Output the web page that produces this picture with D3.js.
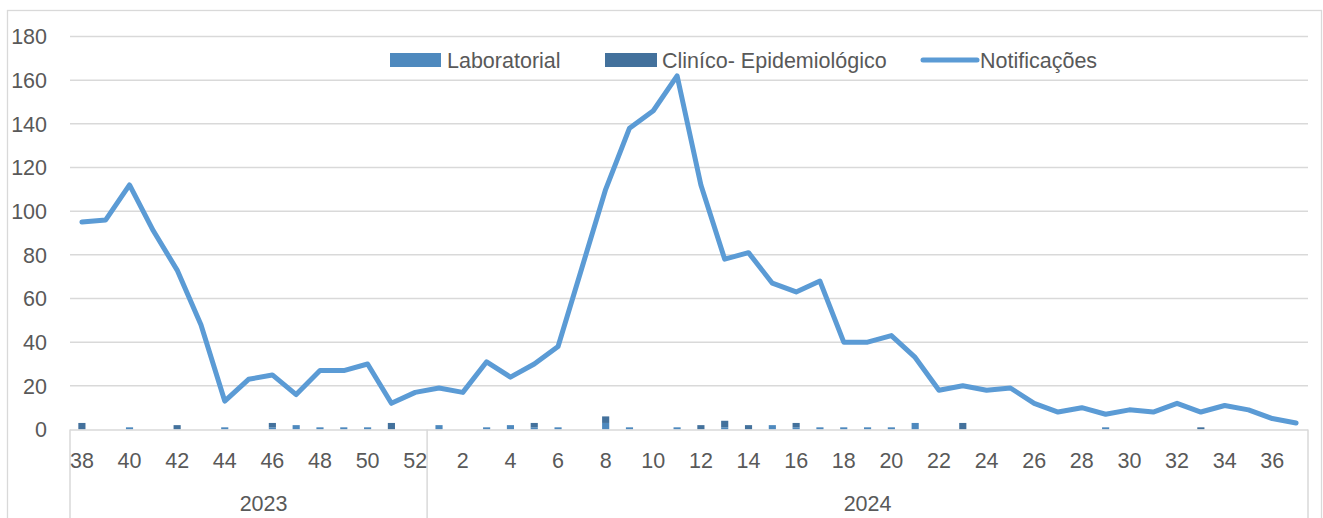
<!DOCTYPE html>
<html>
<head>
<meta charset="utf-8">
<script src="https://cdn.jsdelivr.net/npm/d3@7"></script>
<style>
  body { margin: 0; background: #fff; }
  svg { display: block; }
  text { font-family: "Liberation Sans", Arial, sans-serif; fill: #595959; }
</style>
</head>
<body>
<svg id="svg"></svg>
<script>
// semanas epidemiologicas (2023: 38-52, 2024: 1-37)
var weeks = [38,39,40,41,42,43,44,45,46,47,48,49,50,51,52,
  1,2,3,4,5,6,7,8,9,10,11,12,13,14,15,16,17,18,19,20,21,22,23,24,25,26,27,28,29,30,31,32,33,34,35,36,37];
var years = [2023,2023,2023,2023,2023,2023,2023,2023,2023,2023,2023,2023,2023,2023,2023,
  2024,2024,2024,2024,2024,2024,2024,2024,2024,2024,2024,2024,2024,2024,2024,2024,2024,2024,2024,2024,2024,2024,2024,2024,2024,2024,2024,2024,2024,2024,2024,2024,2024,2024,2024,2024,2024];
var laboratorial = [0,0,1,0,0,0,1,0,1,2,1,1,1,0,0,
  2,0,1,2,1,1,0,3,1,0,1,0,1,0,2,1,1,1,1,1,3,0,0,0,0,0,0,0,1,0,0,0,0,0,0,0,0];
var clinico = [3,0,0,0,2,0,0,0,2,0,0,0,0,3,0,
  0,0,0,0,2,0,0,3,0,0,0,2,3,2,0,2,0,0,0,0,0,0,3,0,0,0,0,0,0,0,0,0,1,0,0,0,0];
var notificacoes = [95,96,112,91,73,48,13,23,25,16,27,27,30,12,17,
  19,17,31,24,30,38,74,110,138,146,162,112,78,81,67,63,68,40,40,43,33,18,20,18,19,12,8,10,7,9,8,12,8,11,9,5,3];
var yTicks = [0,20,40,60,80,100,120,140,160,180];
var seriesNames = ["Laboratorial", "Clin\u00edco- Epidemiol\u00f3gico", "Notifica\u00e7\u00f5es"];

var width = 1323, height = 518;
var colLab = "#4e89be", colClin = "#43719c", colLine = "#5b9bd5", gridCol = "#d9d9d9";
var fs = "21.5px";

var svg = d3.select("#svg").attr("width", width).attr("height", height);

// chart border
svg.append("rect")
  .attr("x", 7.5).attr("y", 10.5)
  .attr("width", 1314).attr("height", 530)
  .attr("fill", "none").attr("stroke", gridCol).attr("stroke-width", 1.3);

var plotL = 70, plotR = 1308, plotT = 36.5, plotB = 429.5;

var idx = weeks.map(function(d, i) { return i; });
var x = d3.scaleBand().domain(idx).range([plotL, plotR]).paddingInner(0.7).paddingOuter(0.35);
var xc = d3.scaleBand().domain(idx).range([plotL, plotR]);
var y = d3.scaleLinear().domain([0, 180]).range([plotB, plotT]);

// gridlines
svg.append("g").selectAll("line").data(yTicks.filter(function(d){ return d > 0; })).enter()
  .append("line")
  .attr("x1", plotL).attr("x2", plotR)
  .attr("y1", function(d){ return y(d); }).attr("y2", function(d){ return y(d); })
  .attr("stroke", gridCol).attr("stroke-width", 1.5);

// y labels
svg.append("g").selectAll("text").data(yTicks).enter()
  .append("text")
  .attr("x", 47).attr("y", function(d){ return y(d); })
  .attr("dy", "0.36em")
  .attr("text-anchor", "end")
  .style("font-size", fs)
  .text(function(d){ return d; });

// stacked bars
var stackData = idx.map(function(i){ return { i: i, lab: laboratorial[i], clin: clinico[i] }; });
var stack = d3.stack().keys(["lab", "clin"])(stackData);
var colors = { lab: colLab, clin: colClin };
svg.append("g").selectAll("g").data(stack).enter()
  .append("g").attr("fill", function(s){ return colors[s.key]; })
  .selectAll("rect").data(function(s){ return s; }).enter()
  .append("rect")
  .attr("x", function(d){ return x(d.data.i); })
  .attr("width", x.bandwidth())
  .attr("y", function(d){ return y(d[1]); })
  .attr("height", function(d){ return y(d[0]) - y(d[1]); });

// x axis line and group separators
svg.append("line")
  .attr("x1", plotL).attr("x2", plotR).attr("y1", plotB + 0.5).attr("y2", plotB + 0.5)
  .attr("stroke", gridCol).attr("stroke-width", 1.5);

var groups = d3.groups(idx, function(i){ return years[i]; });
var seps = [plotL];
groups.forEach(function(g){ seps.push(xc(g[1][g[1].length - 1]) + xc.bandwidth()); });
svg.append("g").selectAll("line").data(seps).enter()
  .append("line")
  .attr("x1", function(d){ return d; }).attr("x2", function(d){ return d; })
  .attr("y1", plotB).attr("y2", height)
  .attr("stroke", gridCol).attr("stroke-width", 1.5);

// week labels (every other)
svg.append("g").selectAll("text").data(idx.filter(function(i){ return i % 2 == 0; })).enter()
  .append("text")
  .attr("x", function(i){ return xc(i) + xc.bandwidth() / 2; })
  .attr("y", 468)
  .attr("text-anchor", "middle")
  .style("font-size", fs)
  .text(function(i){ return weeks[i]; });

// year labels; the first group label sits a bit right in the original (excel quirk)
svg.append("g").selectAll("text").data(groups).enter()
  .append("text")
  .attr("x", function(g, k){
    var a = xc(g[1][0]), b = xc(g[1][g[1].length - 1]) + xc.bandwidth();
    return (a + b) / 2 + (k == 0 ? 15 : 0);
  })
  .attr("y", 511)
  .attr("text-anchor", "middle")
  .style("font-size", fs)
  .text(function(g){ return g[0]; });

// notificacoes line
var line = d3.line()
  .x(function(d, i){ return xc(i) + xc.bandwidth() / 2; })
  .y(function(d){ return y(d); });
svg.append("path")
  .datum(notificacoes)
  .attr("d", line)
  .attr("fill", "none")
  .attr("stroke", colLine)
  .attr("stroke-width", 5)
  .attr("stroke-linejoin", "round")
  .attr("stroke-linecap", "round");

// legend
var lg = svg.append("g");
lg.append("rect").attr("x", 390).attr("y", 53).attr("width", 51).attr("height", 14).attr("fill", colLab);
lg.append("text").attr("x", 447).attr("y", 60).attr("dy", "0.36em").style("font-size", fs).text(seriesNames[0]);
lg.append("rect").attr("x", 605).attr("y", 53).attr("width", 52).attr("height", 14).attr("fill", colClin);
lg.append("text").attr("x", 662).attr("y", 60).attr("dy", "0.36em").style("font-size", fs).text(seriesNames[1]);
lg.append("line").attr("x1", 923).attr("x2", 977).attr("y1", 60).attr("y2", 60)
  .attr("stroke", colLine).attr("stroke-width", 5).attr("stroke-linecap", "round");
lg.append("text").attr("x", 980).attr("y", 60).attr("dy", "0.36em").style("font-size", fs).text(seriesNames[2]);
</script>
</body>
</html>
